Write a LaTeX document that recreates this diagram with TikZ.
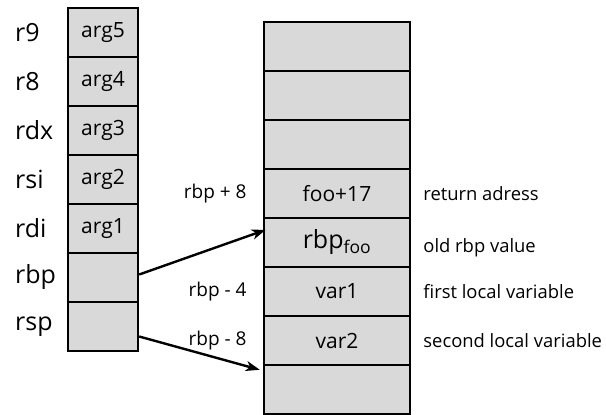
\documentclass[tikz,border=0pt]{standalone}
\usepackage{fontspec}
\setmainfont{Open Sans}
\usepackage{tikz}
\usetikzlibrary{positioning,arrows.meta}

\begin{document}
\begin{tikzpicture}[x=1pt, y=-1pt, node distance=49pt, line width=2.4pt,
		cell/.style={rectangle,draw,fill=black!15,minimum width=70pt,minimum height=49pt,
			inner sep=0pt,font=\fontsize{21}{24}\selectfont},
		slot/.style={cell,minimum width=146pt,font=\fontsize{21}{24}\selectfont},
		reg/.style={anchor=west,inner sep=0pt,font=\fontsize{25}{28}\selectfont},
		offs/.style={inner sep=0pt,font=\fontsize{19}{22}\selectfont},
		note/.style={inner sep=0pt,font=\fontsize{18.4}{22}\selectfont},
		ptr/.style={-{Stealth[length=14pt,width=10pt,inset=4pt]}}]
	
	\useasboundingbox (0,0) rectangle (606,415);
	
	% argument registers
	\node[cell] (a5) at (103,32.5) {arg5};
	\node[cell] (a4) [below of=a5] {arg4};
	\node[cell] (a3) [below of=a4] {arg3};
	\node[cell] (a2) [below of=a3] {arg2};
	\node[cell] (a1) [below of=a2] {arg1};
	\node[cell] (bp) [below of=a1] {};
	\node[cell] (sp) [below of=bp] {};
	
	\node[reg] (r9) at (14,0 |- a5) {r9};
	\node[reg] (r8) at (14,0 |- a4) {r8};
	\node[reg] (rdx) at (14,0 |- a3) {rdx};
	\node[reg] (rsi) at (14,0 |- a2) {rsi};
	\node[reg] (rdi) at (14,0 |- a1) {rdi};
	\node[reg] (rbp) at (14,0 |- bp) {rbp};
	\node[reg] (rsp) at (14,0 |- sp) {rsp};
	
	% stack
	\node[slot] (s1) at (337,46.5) {};
	\node[slot] (s2) [below of=s1] {};
	\node[slot] (s3) [below of=s2] {};
	\node[slot] (s4) [below of=s3] {foo+17};
	\node[slot] (s5) [below of=s4] {\fontsize{25}{28}\selectfont rbp\textsubscript{foo}};
	\node[slot] (s6) [below of=s5] {var1};
	\node[slot] (s7) [below of=s6] {var2};
	\node[slot] (s8) [below of=s7] {};
	
	\node[offs] (o4) [left=15pt of s4] {rbp + 8};
	\node[offs] (o6) [left=15pt of s6] {rbp - 4};
	\node[offs] (o7) [left=15pt of s7] {rbp - 8};
	
	\node[note] (n4) [right=11pt of s4] {return adress};
	\node[note] (n5) [right=11pt of s5, yshift=-5pt] {old rbp value};
	\node[note] (n6) [right=11pt of s6] {first local variable};
	\node[note] (n7) [right=11pt of s7] {second local variable};
	
	\draw[ptr] ([yshift=3pt]bp.east) -- ([xshift=3pt,yshift=-13pt]s5.north west);
	\draw[ptr] ([yshift=-10pt]sp.east) -- ([xshift=-3pt,yshift=-6pt]s8.north west);
\end{tikzpicture}
\end{document}
